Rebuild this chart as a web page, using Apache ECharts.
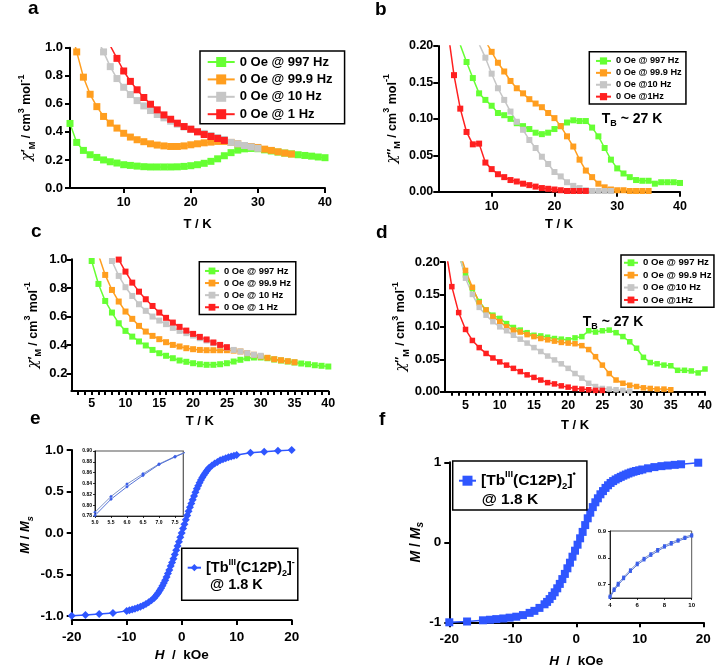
<!DOCTYPE html>
<html><head><meta charset="utf-8">
<script src="https://cdn.jsdelivr.net/npm/echarts@6/dist/echarts.min.js"></script>
<style>html,body{margin:0;padding:0;background:#fff}#c{width:717px;height:670px}</style>
</head><body><div id="c"></div>
<script>
const FONT = '"Liberation Sans", Arial, Helvetica, sans-serif';
const C_GREEN = '#66ff33', C_ORANGE = '#ff9e1f', C_GRAY = '#c6c6c6', C_RED = '#ff2020', C_BLUE = '#2f56ff';

// ---------- data ----------
const temps = [2,3,4,5,6,7,8,9,10,11,12,13,14,15,16,17,18,19,20,21,22,23,24,25,26,27,28,29,30,31,32,33,34,35,36,37,38,39,40];

const namesA = ['0 Oe @ 997 Hz','0 Oe @ 99.9 Hz','0 Oe @ 10 Hz','0 Oe @ 1 Hz'];
const namesB = ['0 Oe @ 997 Hz','0 Oe @ 99.9 Hz','0 Oe @10 Hz','0 Oe @1Hz'];

// panel a : chi' (zero field), start temperatures [green, orange, gray, red]
const startA = [2, 2, 6, 8];
const aGreen = [0.46,0.325,0.268,0.237,0.218,0.2,0.187,0.178,0.166,0.161,0.156,0.152,0.15,0.15,0.15,0.15,0.151,0.154,0.159,0.166,0.176,0.19,0.208,0.23,0.252,0.27,0.279,0.282,0.28,0.272,0.264,0.256,0.249,0.243,0.237,0.232,0.227,0.221,0.216];
const aOrange = [1.16,0.97,0.79,0.668,0.58,0.51,0.462,0.427,0.39,0.363,0.344,0.33,0.315,0.306,0.3,0.296,0.296,0.3,0.308,0.315,0.322,0.327,0.332,0.332,0.325,0.315,0.303,0.296,0.289,0.277,0.268,0.258,0.249,0.242];
const aGray = [1.07,0.97,0.865,0.78,0.718,0.666,0.623,0.585,0.552,0.524,0.5,0.476,0.455,0.436,0.419,0.403,0.389,0.374,0.36,0.346,0.325,0.315,0.303,0.293,0.283];
const aRed = [1.014,0.924,0.834,0.76,0.7,0.645,0.597,0.557,0.521,0.49,0.462,0.438,0.419,0.4,0.381,0.367,0.353,0.339];

// panel b : chi'' (zero field)
const startB = [5, 9, 8, 3];
const bGreen = [0.2015,0.178,0.156,0.135,0.126,0.118,0.108,0.105,0.1,0.094,0.09,0.086,0.081,0.079,0.081,0.086,0.09,0.095,0.098,0.097,0.097,0.088,0.076,0.06,0.044,0.032,0.025,0.02,0.016,0.015,0.015,0.011,0.013,0.013,0.013,0.012];
const bOrange = [0.207,0.192,0.177,0.165,0.152,0.142,0.135,0.127,0.121,0.116,0.108,0.101,0.09,0.076,0.062,0.044,0.029,0.02,0.011,0.006,0.003,0.002,0.002,0.001,0.001,0.001,0.001];
const bGray = [0.2026,0.184,0.162,0.142,0.126,0.11,0.096,0.085,0.071,0.06,0.048,0.038,0.027,0.021,0.013,0.008,0.005,0.002,0.001,0.001,0.001,0.001];
const bRed = [0.2225,0.16,0.114,0.082,0.065,0.066,0.04,0.031,0.024,0.02,0.016,0.014,0.011,0.009,0.007,0.005,0.004,0.003,0.002,0.001,0.001,0.001,0.001];

// panel c : chi'
const startC = [5, 6, 8, 9];
const cGreen = [0.988,0.828,0.709,0.628,0.553,0.5,0.46,0.426,0.398,0.367,0.344,0.326,0.309,0.293,0.284,0.274,0.267,0.263,0.263,0.267,0.274,0.286,0.298,0.309,0.314,0.314,0.309,0.3,0.293,0.286,0.279,0.272,0.267,0.26,0.256,0.251];
const cOrange = [1.032,0.891,0.786,0.705,0.635,0.584,0.535,0.495,0.465,0.442,0.421,0.402,0.391,0.379,0.372,0.367,0.365,0.365,0.365,0.365,0.362,0.356,0.344,0.333,0.321,0.312,0.302,0.295,0.288,0.281];
const cGray = [0.988,0.884,0.805,0.744,0.686,0.64,0.6,0.572,0.547,0.521,0.5,0.484,0.467,0.449,0.433,0.414,0.398,0.384,0.367,0.356,0.344,0.333,0.326];
const cRed = [0.998,0.914,0.837,0.774,0.721,0.674,0.628,0.591,0.558,0.528,0.502,0.479,0.458,0.44,0.419,0.402,0.386];

// panel d : chi''
const startD = [4, 4, 4, 2];
const dGreen = [0.2117,0.18,0.159,0.139,0.126,0.118,0.113,0.105,0.099,0.095,0.091,0.087,0.086,0.084,0.082,0.081,0.08,0.083,0.085,0.094,0.092,0.094,0.095,0.091,0.085,0.077,0.067,0.053,0.045,0.043,0.041,0.04,0.033,0.033,0.032,0.029,0.035];
const dOrange = [0.2195,0.187,0.161,0.137,0.126,0.116,0.108,0.1,0.095,0.092,0.088,0.085,0.082,0.08,0.078,0.076,0.075,0.074,0.071,0.065,0.054,0.041,0.028,0.018,0.013,0.01,0.008,0.006,0.005,0.004,0.004,0.003];
const dGray = [0.2147,0.175,0.15,0.13,0.118,0.108,0.1,0.094,0.087,0.081,0.075,0.068,0.062,0.055,0.049,0.043,0.036,0.028,0.021,0.013,0.008,0.005,0.004,0.003,0.002,0.001];
const dRed = [0.2264,0.162,0.122,0.096,0.079,0.068,0.059,0.052,0.046,0.041,0.036,0.031,0.026,0.022,0.018,0.014,0.012,0.009,0.007,0.005,0.004,0.003,0.002,0.002];

// panel e : M/Ms vs H
const eH = [-20,-17.5,-15,-12.5,-10,-9.5,-9,-8.5,-8,-7.5,-7,-6.5,-6,-5.5,-5,-4.75,-4.5,-4.25,-4,-3.75,-3.5,-3.25,-3,-2.75,-2.5,-2.25,-2,-1.75,-1.5,-1.25,-1,-0.75,-0.5,-0.25,0,0.25,0.5,0.75,1,1.25,1.5,1.75,2,2.25,2.5,2.75,3,3.25,3.5,3.75,4,4.25,4.5,4.75,5,5.5,6,6.5,7,7.5,8,8.5,9,9.5,10,12.5,15,17.5,20];
const eM = [-1.0,-0.99,-0.978,-0.966,-0.94,-0.932,-0.923,-0.913,-0.902,-0.889,-0.875,-0.856,-0.836,-0.813,-0.785,-0.765,-0.743,-0.72,-0.695,-0.667,-0.638,-0.605,-0.57,-0.532,-0.49,-0.446,-0.4,-0.356,-0.31,-0.26,-0.21,-0.158,-0.105,-0.053,0,0.053,0.105,0.158,0.21,0.26,0.31,0.356,0.4,0.446,0.49,0.532,0.57,0.605,0.638,0.667,0.695,0.72,0.743,0.765,0.785,0.813,0.836,0.856,0.875,0.889,0.902,0.913,0.923,0.932,0.94,0.966,0.978,0.99,1.0];
// inset e
const eInsH = [5.0,5.5,6.0,6.5,7.0,7.5,8.0];
const eInsUp = [0.787,0.816,0.839,0.858,0.876,0.89,0.902];
const eInsLo = [0.781,0.811,0.834,0.855,0.875,0.889,0.902];

// panel f
const fH = [-20,-17.2,-14.7,-13.6,-12.6,-11.5,-10.5,-9.45,-8.4,-7.35,-6.6,-5.8,-5.0,-4.6,-4.2,-3.8,-3.4,-3.0,-2.6,-2.2,-1.8,-1.4,-1.0,-0.6,-0.2,0.2,0.6,1.0,1.4,1.8,2.2,2.6,3.0,3.4,3.8,4.2,4.6,5.0,5.4,5.8,6.2,6.6,7.0,7.4,7.8,8.2,8.6,9.0,9.4,9.9,10.4,11.3,12.3,13.4,14.4,15.5,16.5,19.2];
const fM = [-1.0,-0.99,-0.975,-0.968,-0.96,-0.952,-0.942,-0.93,-0.91,-0.882,-0.857,-0.82,-0.775,-0.745,-0.71,-0.67,-0.625,-0.575,-0.52,-0.46,-0.395,-0.325,-0.255,-0.18,-0.105,-0.03,0.05,0.13,0.215,0.3,0.37,0.44,0.5,0.55,0.6,0.64,0.68,0.713,0.742,0.765,0.785,0.802,0.818,0.833,0.847,0.86,0.872,0.882,0.891,0.9,0.91,0.925,0.94,0.952,0.96,0.968,0.975,0.995];
// inset f
const fInsH = [4,4.3,4.6,5,5.5,6,6.5,7,7.5,8,8.5,9,9.5,10];
const fInsUp = [0.657,0.684,0.705,0.728,0.755,0.78,0.798,0.815,0.831,0.845,0.857,0.867,0.877,0.886];
const fInsLo = [0.652,0.678,0.698,0.722,0.749,0.774,0.792,0.809,0.825,0.84,0.851,0.862,0.872,0.881];

// tick labels
const tA_x = [10,20,30,40];
const tA_y = [0,0.2,0.4,0.6,0.8,1.0];
const tB_y = [0,0.05,0.1,0.15,0.2];
const tCD_x = [5,10,15,20,25,30,35,40];
const tCD_minor = [3,4,5,6,7,8,9,10,11,12,13,14,15,16,17,18,19,20,21,22,23,24,25,26,27,28,29,30,31,32,33,34,35,36,37,38,39,40];
const tC_y = [0.2,0.4,0.6,0.8,1.0];
const tEF_x = [-20,-10,0,10,20];
const tE_y = [-1,-0.5,0,0.5,1];
const tF_y = [-1,0,1];
const tInsE_x = [5,5.5,6,6.5,7,7.5];
const tInsE_y = [0.78,0.8,0.82,0.84,0.86,0.88,0.9];
const tInsF_x = [4,6,8,10];
const tInsF_y = [0.7,0.8,0.9];

// ---------- helpers ----------
function grid(l,t,w,h,extra){ return Object.assign({left:l, top:t, width:w, height:h, containLabel:false, outerBoundsMode:'none'}, extra||{}); }
function axis(dim, gi, min, max, o){
  const lw = o.lw || 2;
  return {
    type:'value', gridIndex:gi, min:min, max:max, position: dim==='x'?'bottom':'left',
    axisLine:{show:true, onZero:false, lineStyle:{color:'#000', width:lw}},
    axisTick:{show:true, inside:false, length:o.tl||5, lineStyle:{color:'#000', width:lw}, customValues:o.ticks||o.labels},
    axisLabel:{show:true, customValues:o.labels, formatter:o.fmt||(v=>String(v)), margin:o.margin==null?7:o.margin,
      color:'#000', fontFamily:FONT, fontWeight:'bold', fontSize:o.fs||13},
    splitLine:{show:false}, minorTick:{show:false},
    name:o.name||'', nameLocation:'middle', nameGap:o.gap||30, nameRotate: dim==='y'?90:0,
    nameTextStyle:o.nts||{}
  };
}
function ser(name, gi, t0, vals, color, size, lw){
  const i0 = temps.indexOf(t0);
  return {type:'line', name:name, xAxisIndex:gi, yAxisIndex:gi,
    data: vals.map((v,k)=>[temps[i0+k], v]), symbol:'rect', symbolSize:size, showSymbol:true, clip:true,
    itemStyle:{color:color}, lineStyle:{color:color, width:lw}, emphasis:{disabled:true}, silent:true, animation:false};
}
function xy(xs, ys){ return xs.map((x,i)=>[x, ys[i]]); }

const chiRich = (fs) => ({
  x:{fontSize:fs+2, fontFamily:'"DejaVu Serif", serif', fontStyle:'italic', color:'#000', lineHeight:20},
  n:{fontSize:fs, fontWeight:'bold', fontFamily:FONT, color:'#000', lineHeight:20},
  s:{fontSize:fs-3.5, fontWeight:'bold', fontFamily:FONT, color:'#000', verticalAlign:'bottom', lineHeight:fs-2},
  u:{fontSize:fs-3.5, fontWeight:'bold', fontFamily:FONT, color:'#000', verticalAlign:'top', lineHeight:fs-2}
});
const tkStyle = {fontSize:13, fontWeight:'bold', fontFamily:FONT, color:'#000'};
const mRich = (fs) => ({
  i:{fontSize:fs, fontWeight:'bold', fontStyle:'italic', fontFamily:FONT, color:'#000', lineHeight:18},
  n:{fontSize:fs, fontWeight:'bold', fontFamily:FONT, color:'#000', lineHeight:18},
  s:{fontSize:fs-4, fontWeight:'bold', fontStyle:'italic', fontFamily:FONT, color:'#000', verticalAlign:'bottom', lineHeight:fs-3}
});
const hRich = (fs) => ({
  i:{fontSize:fs, fontWeight:'bold', fontStyle:'italic', fontFamily:FONT, color:'#000'},
  n:{fontSize:fs, fontWeight:'bold', fontFamily:FONT, color:'#000'}
});
const f1 = v => v.toFixed(1), f2 = v => v.toFixed(2);

const grids = [
  grid(70, 47.7, 255, 140.3),       // 0 a
  grid(438.3, 46, 241.7, 145.7),    // 1 b
  grid(71.4, 259.3, 256.9, 131.7),  // 2 c
  grid(445, 262, 260, 129.7),       // 3 d
  grid(71.7, 450, 220, 170),        // 4 e
  grid(449.3, 462.3, 254, 160),     // 5 f
  grid(95, 451, 88.3, 65, {show:true, borderColor:'#555', borderWidth:1.2, backgroundColor:'#fff'}), // 6 inset e
  grid(610, 531, 81.7, 67, {show:true, borderColor:'#555', borderWidth:1, backgroundColor:'#fff'})    // 7 inset f
];

const chiP = '{x|χ}{n|′}{s|M}{n| / cm}{u|3}{n| mol}{u|-1}';
const chiPP = '{x|χ}{n|′′}{s|M}{n| / cm}{u|3}{n| mol}{u|-1}';
const tk = 'T / K';

const xAxes = [
  axis('x',0,2,40,{labels:tA_x, fs:12.5, margin:8, name:tk, gap:29.5, nts:tkStyle}),
  axis('x',1,1.5,40,{labels:tA_x, fs:12.5, margin:8, name:tk, gap:26, nts:tkStyle}),
  axis('x',2,2,40,{labels:tCD_x, ticks:tCD_minor, tl:4, fs:12.5, margin:6, name:tk, gap:24, nts:tkStyle}),
  axis('x',3,2,40,{labels:tCD_x, ticks:tCD_minor, tl:4, fs:12.5, margin:7, name:tk, gap:27, nts:tkStyle}),
  axis('x',4,-20,20,{labels:tEF_x, fs:13.5, margin:10, name:'{i|H}{n|  /  kOe}', gap:28, nts:{rich:hRich(13.5)}}),
  axis('x',5,-20,20,{labels:tEF_x, fs:13.5, margin:10, name:'{i|H}{n|  /  kOe}', gap:32, nts:{rich:hRich(13.5)}}),
  axis('x',6,5,7.76,{labels:tInsE_x, fmt:f1, fs:5, margin:4, tl:2, lw:0.8}),
  axis('x',7,4,10,{labels:tInsF_x, fs:6, margin:4, tl:2, lw:0.8})
];
const yAxes = [
  axis('y',0,0,1,{labels:tA_y, fmt:f1, fs:13, margin:7, name:chiP, gap:33, nts:{rich:chiRich(12.5)}}),
  axis('y',1,0,0.2,{labels:tB_y, fmt:f2, fs:12.5, margin:5, name:chiPP, gap:36, nts:{rich:chiRich(12.5)}}),
  axis('y',2,0.08,1.0,{labels:tC_y, fmt:f1, fs:13, margin:4, name:chiP, gap:28, nts:{rich:chiRich(12.5)}}),
  axis('y',3,0,0.2,{labels:tB_y, fmt:f2, fs:13, margin:5, name:chiPP, gap:33, nts:{rich:chiRich(12.5)}}),
  axis('y',4,-1.05,1,{labels:tE_y, fmt:f1, fs:13.5, margin:8, name:'{i|M}{n| / }{i|M}{s|s}', gap:37, nts:{rich:mRich(13)}}),
  axis('y',5,-1,1,{labels:tF_y, fs:13.5, margin:8, name:'{i|M}{n| / }{i|M}{s|s}', gap:23, nts:{rich:mRich(14)}}),
  axis('y',6,0.78,0.9,{labels:tInsE_y, fmt:f2, fs:5, margin:3, tl:2, lw:0.8}),
  axis('y',7,0.65,0.9,{labels:tInsF_y, fmt:f1, fs:6, margin:4, tl:2, lw:0.8})
];

const cols = [C_GREEN, C_ORANGE, C_GRAY, C_RED];
const series = [];
[[aGreen,aOrange,aGray,aRed]].forEach(arr => arr.forEach((v,i)=>series.push(ser(namesA[i],0,startA[i],v,cols[i],7,1.5))));
[[bGreen,bOrange,bGray,bRed]].forEach(arr => arr.forEach((v,i)=>series.push(ser(namesB[i],1,startB[i],v,cols[i],6,1.5))));
[[cGreen,cOrange,cGray,cRed]].forEach(arr => arr.forEach((v,i)=>series.push(ser(namesA[i],2,startC[i],v,cols[i],6,1.5))));
[[dGreen,dOrange,dGray,dRed]].forEach(arr => arr.forEach((v,i)=>series.push(ser(namesB[i],3,startD[i],v,cols[i],5.5,1.5))));

series.push({type:'line', name:'eMain', xAxisIndex:4, yAxisIndex:4, data:xy(eH,eM), symbol:'diamond', symbolSize:8,
  itemStyle:{color:C_BLUE}, lineStyle:{color:C_BLUE, width:1.5}, clip:true, silent:true, animation:false});
series.push({type:'line', name:'fMain', xAxisIndex:5, yAxisIndex:5, data:xy(fH,fM), symbol:'rect', symbolSize:8,
  itemStyle:{color:C_BLUE}, lineStyle:{color:C_BLUE, width:1.5}, clip:true, silent:true, animation:false});
series.push({type:'line', name:'eInsUp', xAxisIndex:6, yAxisIndex:6, data:xy(eInsH,eInsUp), symbol:'diamond', symbolSize:3.5,
  itemStyle:{color:'#3a5ee8'}, lineStyle:{color:'#7f93c8', width:1}, clip:true, silent:true, animation:false});
series.push({type:'line', name:'eInsLo', xAxisIndex:6, yAxisIndex:6, data:xy(eInsH,eInsLo), symbol:'diamond', symbolSize:3.5,
  itemStyle:{color:'#3a5ee8'}, lineStyle:{color:'#5573d8', width:1}, clip:true, silent:true, animation:false});
series.push({type:'line', name:'fInsUp', xAxisIndex:7, yAxisIndex:7, data:xy(fInsH,fInsUp), symbol:'rect', symbolSize:3,
  itemStyle:{color:'#3a5ee8'}, lineStyle:{color:'#7f93c8', width:1}, clip:true, silent:true, animation:false});
series.push({type:'line', name:'fInsLo', xAxisIndex:7, yAxisIndex:7, data:xy(fInsH,fInsLo), symbol:'rect', symbolSize:3,
  itemStyle:{color:'#3a5ee8'}, lineStyle:{color:'#5573d8', width:1}, clip:true, silent:true, animation:false});

function leg(names, left, top, pad, gap, iw, ih, fs, lh){
  return {show:true, data:names, orient:'vertical', left:left, top:top, padding:pad, itemGap:gap, itemWidth:iw, itemHeight:ih,
    borderColor:'#000', borderWidth:1.5, backgroundColor:'#fff', selectedMode:false, z:4,
    textStyle:{fontFamily:FONT, fontWeight:'bold', fontSize:fs, color:'#000', lineHeight:lh}};
}
const tbRich = {
  r:{fontSize:14.5, fontWeight:'bold', fontFamily:FONT, color:'#000', lineHeight:20},
  sup:{fontSize:9, fontWeight:'bold', fontFamily:FONT, color:'#000', verticalAlign:'top', lineHeight:9},
  sub:{fontSize:9, fontWeight:'bold', fontFamily:FONT, color:'#000', verticalAlign:'bottom', lineHeight:9}
};
const tbRichF = {
  r:{fontSize:15.5, fontWeight:'bold', fontFamily:FONT, color:'#000', lineHeight:22},
  sup:{fontSize:9.5, fontWeight:'bold', fontFamily:FONT, color:'#000', verticalAlign:'top', lineHeight:9},
  sub:{fontSize:9.5, fontWeight:'bold', fontFamily:FONT, color:'#000', verticalAlign:'bottom', lineHeight:9}
};
const legends = [
  leg(namesA, 200, 51, [3.5,12,2,6.7], 2.4, 27, 12.5, 13, 15),
  leg(namesB, 589.3, 51.7, [4,4.3,2,5.7], 1.4, 15, 9, 9.2, 10.5),
  leg(namesA, 199.3, 261.7, [4,4.8,2,4.7], 1.6, 14, 8.5, 9.4, 10.5),
  leg(namesB, 621, 255, [2.5,2.4,2,2], 1.9, 14, 8.5, 9.6, 10.5),
  Object.assign(leg(['eMain'], 181.7, 548.3, [9.4,3,22.6,5], 0, 13.3, 9, 14.5, 20),
    {formatter:()=> '{r|[Tb}{sup|III}{r|(C12P)}{sub|2}{r|]}{sup|-}', textStyle:{rich:tbRich, fontFamily:FONT, fontWeight:'bold', fontSize:14.5, color:'#000', lineHeight:20}}),
  Object.assign(leg(['fMain'], 452.7, 461, [8.7,11,18.3,5.3], 0, 17, 12.5, 15.5, 22),
    {formatter:()=> '{r|[Tb}{sup|III}{r|(C12P)}{sub|2}{r|]}{sup|•}', textStyle:{rich:tbRichF, fontFamily:FONT, fontWeight:'bold', fontSize:15.5, color:'#000', lineHeight:22}})
];

function letter(t, x, y){ return {type:'text', z:100, x:x, y:y, style:{text:t, font:'bold 19px '+FONT, fill:'#000', textVerticalAlign:'middle', verticalAlign:'middle'}}; }
function tb(x, y){ return {type:'text', z:100, x:x, y:y, style:{text:'{t|T}{b|B}{t| ~ 27 K}', textVerticalAlign:'middle', verticalAlign:'middle',
  rich:{t:{font:'bold 14px '+FONT, fill:'#000', lineHeight:18}, b:{font:'bold 9px '+FONT, fill:'#000', verticalAlign:'bottom', lineHeight:10}}}}; }
function plain(t, x, y, fs){ return {type:'text', z:100, zlevel:0, x:x, y:y, style:{text:t, font:'bold '+fs+'px '+FONT, fill:'#000', textVerticalAlign:'middle', verticalAlign:'middle'}}; }

const graphics = [
  letter('a', 28, 8.3), letter('b', 375, 9.3), letter('c', 31, 231.6), letter('d', 376, 232.6), letter('e', 30, 418.3), letter('f', 379, 419.3),
  tb(601.7, 119.3), tb(582.7, 321.7),
  plain('@ 1.8 K', 210, 585, 14.5), plain('@ 1.8 K', 481.7, 500, 15.5)
];

const chart = echarts.init(document.getElementById('c'), null, {renderer:'canvas'});
chart.setOption({
  animation:false, backgroundColor:'#fff', textStyle:{fontFamily:FONT},
  grid:grids, xAxis:xAxes, yAxis:yAxes, series:series, legend:legends,
  graphic:{elements:graphics}
});
</script></body></html>
